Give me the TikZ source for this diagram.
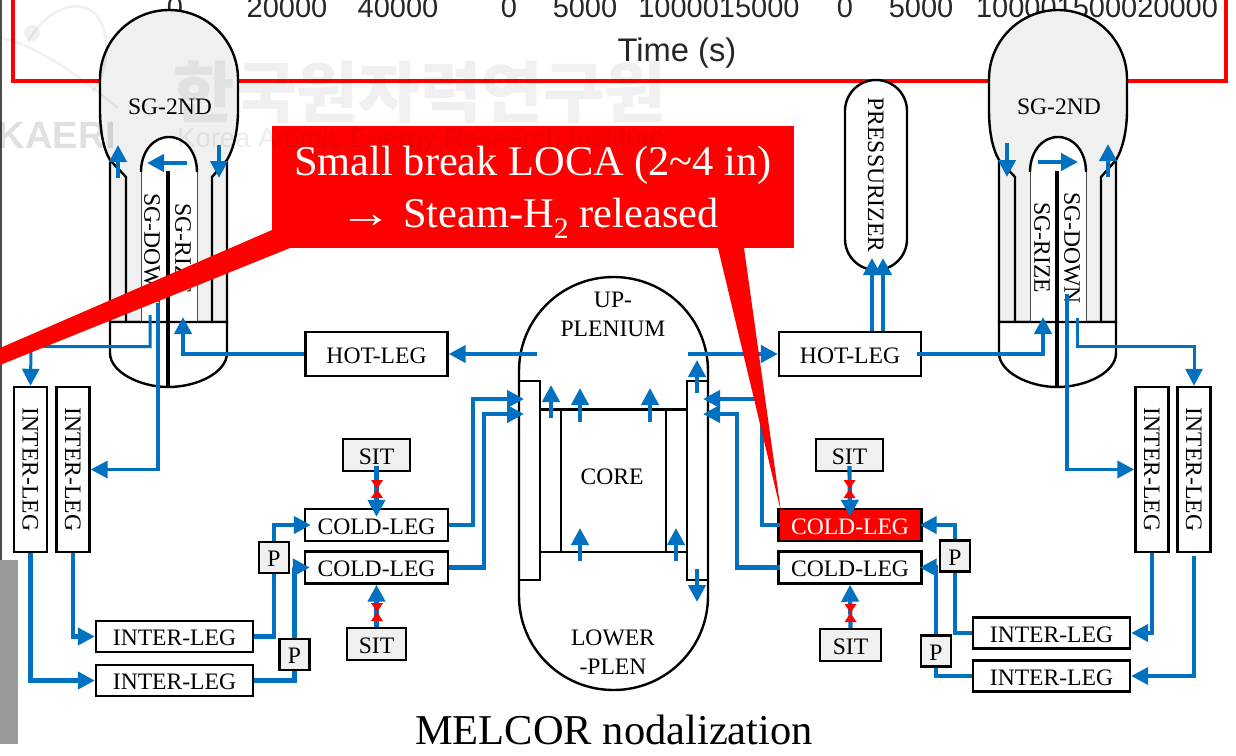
\documentclass[tikz,border=0pt]{standalone}
\usepackage{fontspec}
\setmainfont{Liberation Serif}
\newfontfamily\axisfont{Liberation Sans}
\newfontfamily\krfont{Noto Sans CJK KR}
\usetikzlibrary{arrows.meta}
\definecolor{flowblue}{HTML}{0070C0}
\definecolor{sggrey}{HTML}{F0F0F0}
\tikzstyle{block} = [rectangle, draw, line width=2.4pt, fill=white, inner sep=0pt,
    text height=18.5pt, text depth=0pt, font=\fontsize{23.6}{26}\selectfont]
\tikzstyle{hleg} = [block, minimum width=143pt, minimum height=32pt]
\tikzstyle{iheg} = [block, minimum width=157pt, minimum height=31pt]
\tikzstyle{vleg} = [block, rotate=-90, text height=15.7pt, minimum width=165pt, minimum height=33pt]
\tikzstyle{pbox} = [block, fill=sggrey, minimum width=30pt, minimum height=31pt]
\tikzstyle{sitbox} = [block, fill=sggrey, minimum height=32pt]
\tikzstyle{label} = [inner sep=0pt, font=\fontsize{23.6}{26}\selectfont]
\tikzstyle{axis} = [inner sep=0pt, font=\axisfont\fontsize{29}{32}\selectfont, black!85]
\tikzstyle{vessel} = [draw, line width=2.4pt]
\tikzstyle{pipe} = [draw, flowblue, line width=4.2pt]
\tikzstyle{flow} = [pipe, -{Triangle[length=17pt,width=17pt]}]
\tikzstyle{midflow} = [flow, line width=3.6pt]
\tikzstyle{thinflow} = [flow, line width=3pt]
\tikzstyle{valve} = [fill=red]
\begin{document}
\begin{tikzpicture}[x=1pt, y=-1pt]
  \useasboundingbox (0,0) rectangle (1236,755);
  % Chart behind
  \fill [black!70] (0,0) rectangle (2,560);
  \fill [black!40] (0,560) rectangle (18,744);
  \draw [red, line width=3.4pt] (13,-5) -- (13,81) -- (1226,81) -- (1226,-5);
  \foreach \x/\t in {175/0, 287/20000, 398/40000, 509/0, 585/5000, 719/1000015000,
      845/0, 921/5000, 1097/100001500020000}
    \node [axis] (tick\x) at (\x,8) {\t};
  \node [axis, font=\axisfont\fontsize{32.7}{34}\selectfont] (time) at (677,53) {Time (s)};

  % Steam generators
  \foreach \dx in {0,889} {
    \begin{scope}[xshift=\dx pt]
      \path [vessel, fill=sggrey] (110,322) -- (110,160)
        .. controls (103,148) and (100,130) .. (100,110) -- (100,79)
        .. controls (100,41) and (131,10) .. (169,10)
        .. controls (207,10) and (238,41) .. (238,79) -- (238,110)
        .. controls (238,130) and (234,148) .. (227,160) -- (227,322) -- cycle;
      \draw [vessel] (110,160) -- (126,177) -- (126,322);
      \draw [vessel] (227,160) -- (212,177) -- (212,322);
      \fill [white] (141,322) -- (141,172)
        .. controls (141,152) and (153,137) .. (169,137)
        .. controls (185,137) and (197,152) .. (197,172) -- (197,322) -- cycle;
      \draw [vessel] (141,172)
        .. controls (141,152) and (153,137) .. (169,137)
        .. controls (185,137) and (197,152) .. (197,172);
      \draw [black!70, line width=0.9pt] (141,172) -- (141,322);
      \draw [black!70, line width=0.9pt] (197,172) -- (197,322);
      \path [vessel, fill=white] (110,322) -- (110,353)
        .. controls (110,372) and (140,387) .. (168,387)
        .. controls (198,387) and (227,372) .. (227,353) -- (227,322) -- cycle;
      \draw [line width=4.5pt] (168,171) -- (168,387);
      \node [label] (sgtwo\dx) at (170,107) {SG-2ND};
    \end{scope}
  }
  \node [label, rotate=-90] (sgdownl) at (152,249) {SG-DOWN};
  \node [label, rotate=-90] (sgrizel) at (183,249) {SG-RIZE};
  \node [label, rotate=-90] (sgriser) at (1042,248) {SG-RIZE};
  \node [label, rotate=-90] (sgdownr) at (1072,248) {SG-DOWN};

  % Reactor vessel
  \path [vessel] (519,371) .. controls (519,319) and (561,277) .. (613.5,277)
    .. controls (666,277) and (708,319) .. (708,371) -- (708,596)
    .. controls (708,648) and (666,690) .. (613.5,690)
    .. controls (561,690) and (519,648) .. (519,596) -- cycle;
  \draw [vessel] (519,381) rectangle (540,580);
  \draw [vessel] (687,381) rectangle (708,580);
  \draw [vessel] (540,409.5) -- (687,409.5);
  \draw [vessel] (540,552) -- (687,552);
  \draw [vessel] (561,409.5) -- (561,552);
  \draw [vessel] (666,409.5) -- (666,552);
  \node [label] (upa) at (613,300) {UP-};
  \node [label] (upb) at (613,329) {PLENIUM};
  \node [label] (core) at (612,477) {CORE};
  \node [label] (lowa) at (613,638) {LOWER};
  \node [label] (lowb) at (613,667) {-PLEN};

  % Place nodes
  \node [block, minimum width=142pt, minimum height=44pt] (hotl) at (376.5,354) {HOT-LEG};
  \node [block, minimum width=142pt, minimum height=44pt] (hotr) at (850,354) {HOT-LEG};
  \node [block, rotate=-90, text height=15.7pt, rounded corners=30.9pt, minimum width=190pt, minimum height=62pt]
    (prz) at (876,175) {PRESSURIZER};
  \node [hleg] (coldla) at (376.5,525) {COLD-LEG};
  \node [hleg] (coldlb) at (376.5,567.5) {COLD-LEG};
  \node [hleg, fill=red, text=white] (coldra) at (850,525) {COLD-LEG};
  \node [hleg] (coldrb) at (850,567.5) {COLD-LEG};
  \node [sitbox, minimum width=67pt] (sitla) at (376.5,455) {SIT};
  \node [sitbox, minimum width=59pt] (sitlb) at (376.5,644) {SIT};
  \node [sitbox, minimum width=67pt] (sitra) at (849.5,455) {SIT};
  \node [sitbox, minimum width=61pt] (sitrb) at (850.5,645) {SIT};
  \node [pbox] (pla) at (274,557.5) {P};
  \node [pbox] (plb) at (294.5,654.5) {P};
  \node [pbox] (pra) at (955,556) {P};
  \node [pbox] (prb) at (936,651) {P};
  \node [iheg] (ihla) at (174.5,636.5) {INTER-LEG};
  \node [iheg] (ihlb) at (174.5,680.5) {INTER-LEG};
  \node [iheg] (ihra) at (1051.5,633) {INTER-LEG};
  \node [iheg] (ihrb) at (1051.5,676) {INTER-LEG};
  \node [vleg] (ivla) at (30.5,469.5) {INTER-LEG};
  \node [vleg] (ivlb) at (73,469.5) {INTER-LEG};
  \node [vleg] (ivra) at (1152,469.5) {INTER-LEG};
  \node [vleg] (ivrb) at (1194,469.5) {INTER-LEG};

  % Free ends
  \coordinate (sghl) at (183,317);
  \coordinate (sghr) at (1043,317);
  \coordinate (prza) at (872,258);
  \coordinate (przb) at (883,258);
  \coordinate (upl) at (537,354);
  \coordinate (upr) at (688,354);
  \coordinate (sgol) at (158,303);
  \coordinate (sgor) at (1067,294);
  \coordinate (sgtl) at (150,315);
  \coordinate (sgtm) at (31,346.5);
  \coordinate (sgtr) at (1077,318);
  \coordinate (sgtn) at (1194,346.5);
  \coordinate (dcla) at (524,399);
  \coordinate (dclb) at (524,414);
  \coordinate (dcra) at (703,399);
  \coordinate (dcrb) at (703,414);
  \coordinate (kla) at (473,399);
  \coordinate (klb) at (484,414);
  \coordinate (kra) at (762,399);
  \coordinate (krb) at (737,414);

  % Draw edges
  \path [flow] (hotl.west) -| (sghl);
  \path [flow] ([xshift=-5pt]hotr.east) -| (sghr);
  \path [flow] (upl) -- (hotl.east);
  \path [flow] (upr) -- (hotr.west);
  \path [flow] (prza |- hotr.north) -- (prza);
  \path [flow] (przb |- hotr.north) -- (przb);
  \path [midflow] (sgol) |- (ivlb.north);
  \path [midflow] (sgor) |- (ivra.south);
  \path [thinflow] (sgtl) |- (sgtm) -- (ivla.west);
  \path [thinflow] (sgtr) |- (sgtn) -- (ivrb.west);
  \path [flow] (ivla.east) |- (ihlb.west);
  \path [flow] (ivlb.east) |- (ihla.west);
  \path [flow] (ivra.east) |- (ihra.east);
  \path [midflow] ([yshift=-3pt]ivrb.east) |- (ihrb.east);
  \path [pipe] (ihla.east) -| (pla.south);
  \path [flow] (pla.north) |- ([xshift=7pt]coldla.west);
  \path [pipe] (ihlb.east) -| (plb.south);
  \path [flow] (plb.north) |- ([xshift=6pt]coldlb.west);
  \path [pipe] (ihra.west) -| (pra.south);
  \path [flow] (pra.north) |- ([xshift=-3pt]coldra.east);
  \path [pipe] (ihrb.west) -| (prb.south);
  \path [flow] (prb.north) |- ([xshift=-3pt]coldrb.east);
  \path [flow] (coldla.east) -| (kla) -- (dcla);
  \path [flow] (coldlb.east) -| (klb) -- (dclb);
  \path [flow] ([xshift=3pt]coldra.west) -| (kra) -- (dcra);
  \path [flow] ([xshift=3pt]coldrb.west) -| (krb) -- (dcrb);
  \path [flow] ([yshift=6pt]sitla.south) -- ([yshift=-9pt]coldla.north);
  \path [flow] ([yshift=6pt]sitra.south) -- ([yshift=-9pt]coldra.north);
  \path [flow] (sitlb.north) -- (coldlb.south);
  \path [flow] (sitrb.north) -- (coldrb.south);

  % Short arrows
  \foreach \x/\ya/\yb [count=\i] in {118/178/145, 219/145/178, 1007/143/177, 1108/177/144,
      551/418/385, 580/422/388, 650/422/388, 697/393/360, 580/561/528, 676/561/528, 697/569/602} {
    \coordinate (sa\i) at (\x,\ya);
    \coordinate (sb\i) at (\x,\yb);
    \path [flow] (sa\i) -- (sb\i);
  }
  \coordinate (sgca) at (187,163);
  \coordinate (sgcb) at (147,163);
  \coordinate (sgcc) at (1038,162);
  \coordinate (sgcd) at (1078,162);
  \path [flow] (sgca) -- (sgcb);
  \path [flow] (sgcc) -- (sgcd);

  % Valves
  \foreach \x/\y in {377/489, 849.5/489, 377/612, 850.5/613}
    \fill [valve] (\x-6,\y-9) -- (\x+6,\y-9) -- (\x-6,\y+9) -- (\x+6,\y+9) -- cycle;

  % Callout
  \fill [red] (272,230) -- (0,348) -- (0,365) -- (290,248) -- cycle;
  \fill [red] (718,248) -- (744,248) -- (781,512) -- cycle;
  \node [rectangle, fill=red, minimum width=522pt, minimum height=122pt, inner sep=0pt] (brk) at (533,187) {};
  \node [inner sep=0pt, text=white, align=center, font=\fontsize{42.4}{52}\selectfont] (brktext) at (533,192)
    {Small break LOCA (2\textasciitilde4 in)\\\scalebox{1.25}[1]{→} Steam-H\textsubscript{2} released\kern8pt};

  \node [inner sep=0pt, font=\fontsize{42.5}{46}\selectfont] (title) at (614,730) {MELCOR nodalization};

  % Watermark
  \node [inner sep=0pt, opacity=0.06, font=\krfont\bfseries\fontsize{67}{69}\selectfont] (wmkr) at (420,92) {한국원자력연구원};
  \node [inner sep=0pt, opacity=0.07, font=\axisfont\fontsize{27.4}{29}\selectfont] (wmen) at (421,140) {Korea Atomic Energy Research Institute};
  \node [inner sep=0pt, opacity=0.12, font=\axisfont\bfseries\fontsize{38}{40}\selectfont] (wmka) at (57,135) {KAERI};
  \draw [black, opacity=0.06, line width=2.5pt] (28,42) .. controls (50,0) and (100,-10) .. (106,40)
    .. controls (108,65) and (100,85) .. (92,92);
  \draw [black, opacity=0.06, line width=2.5pt] (0,38) .. controls (40,45) and (90,85) .. (118,108);
  \fill [black, opacity=0.06] (32,33) circle (8);
\end{tikzpicture}
\end{document}
